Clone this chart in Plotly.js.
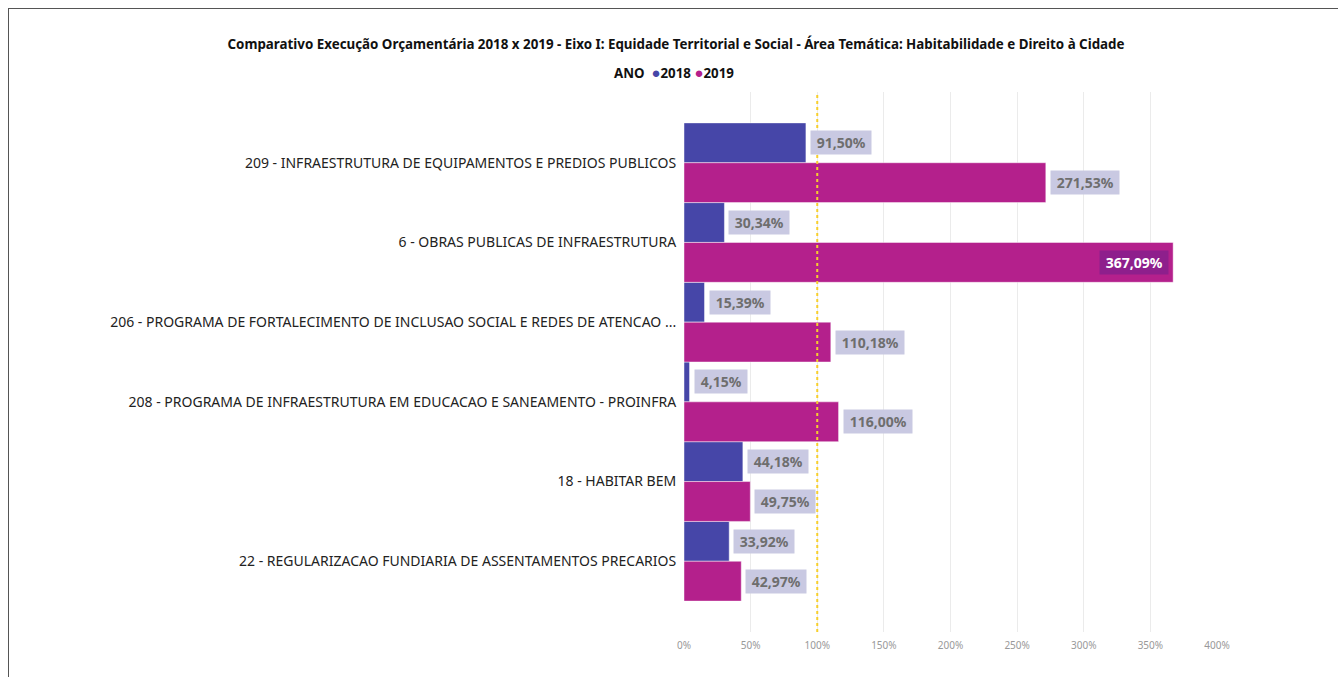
<!DOCTYPE html>
<html>
<head>
<meta charset="utf-8">
<script src="https://cdn.plot.ly/plotly-3.0.1.min.js"></script>
<style>
  html, body { margin: 0; padding: 0; background: #fff; }
  #frame { position: absolute; left: 8px; top: 8px; width: 1340px; height: 680px; border-left: 1px solid #555; border-top: 1px solid #555; }
  #chart { position: absolute; left: 0; top: 0; width: 1338px; height: 677px; }
</style>
</head>
<body>
<div id="frame"></div>
<div id="chart"></div>
<script>
var categories = [
  "209 - INFRAESTRUTURA DE EQUIPAMENTOS E PREDIOS PUBLICOS",
  "6 - OBRAS PUBLICAS DE INFRAESTRUTURA",
  "206 - PROGRAMA DE FORTALECIMENTO DE INCLUSAO SOCIAL E REDES DE ATENCAO ...",
  "208 - PROGRAMA DE INFRAESTRUTURA EM EDUCACAO E SANEAMENTO - PROINFRA",
  "18 - HABITAR BEM",
  "22 - REGULARIZACAO FUNDIARIA DE ASSENTAMENTOS PRECARIOS"
];
var values2018 = [91.50, 30.34, 15.39, 4.15, 44.18, 33.92];
var values2019 = [271.53, 367.09, 110.18, 116.00, 49.75, 42.97];
var seriesNames = ["2018", "2019"];
var seriesColors = ["#4646a8", "#b4208c"];
var tickValues = [0, 50, 100, 150, 200, 250, 300, 350, 400];
var tickLabels = ["0%", "50%", "100%", "150%", "200%", "250%", "300%", "350%", "400%"];
var targetValue = 100;
var titleText = "Comparativo Execução Orçamentária 2018 x 2019 - Eixo I: Equidade Territorial e Social - Área Temática: Habitabilidade e Direito à Cidade";
var legendTitle = "ANO";

var FONT = "'Noto Sans', 'Open Sans', sans-serif";

function fmt(v) { return v.toFixed(2).replace(".", ",") + "%"; }

var series = [values2018, values2019];
var traces = series.map(function (vals, s) {
  return {
    type: "bar",
    orientation: "h",
    name: seriesNames[s],
    x: vals,
    y: categories,
    marker: { color: seriesColors[s], line: { color: "rgba(255,255,255,0.45)", width: 1 } },
    hoverinfo: "x+y+name",
    showlegend: false
  };
});

var maxX = 400;
var plotLeft = 684, plotRight = 1217;
var annotations = [];
series.forEach(function (vals, s) {
  vals.forEach(function (v, i) {
    var inside = v > 340;
    annotations.push({
      x: v,
      y: i + (s === 0 ? -0.25 : 0.25),
      xref: "x", yref: "y",
      text: "&nbsp;<b>" + fmt(v) + "</b>&nbsp;",
      showarrow: false,
      xanchor: inside ? "right" : "left",
      yanchor: "middle",
      xshift: inside ? -4 : 4,
      font: { family: FONT, size: 14, color: inside ? "#ffffff" : "#6e6e6e" },
      bgcolor: inside ? "#8e1f8c" : "#c9c9e2",
      borderpad: 2
    });
  });
});

// Legend drawn as a text line above the plot
annotations.push({
  xref: "paper", yref: "paper",
  x: (674 - plotLeft) / (plotRight - plotLeft), y: 1,
  yshift: 20,
  xanchor: "center", yanchor: "middle",
  showarrow: false,
  text: "<b>" + legendTitle + "</b>  " +
        seriesNames.map(function (n, s) {
          return "<span style='color:" + seriesColors[s] + ";font-size:15px'>●</span><b>" + n + "</b>";
        }).join(" "),
  font: { family: FONT, size: 13.3, color: "#111" }
});

var layout = {
  width: 1338, height: 677,
  paper_bgcolor: "rgba(0,0,0,0)",
  plot_bgcolor: "rgba(0,0,0,0)",
  margin: { l: plotLeft, r: 1338 - plotRight, t: 92, b: 45 },
  title: {
    text: "<b>" + titleText + "</b>",
    font: { family: FONT, size: 13.35, color: "#111" },
    xref: "container", yref: "container",
    x: 676 / 1338, xanchor: "center",
    y: 1 - 44 / 677, yanchor: "middle"
  },
  barmode: "group",
  bargap: 0,
  bargroupgap: 0,
  showlegend: false,
  xaxis: {
    range: [0, maxX],
    tickvals: tickValues,
    ticktext: tickLabels,
    showgrid: true,
    gridcolor: "#ebebeb",
    gridwidth: 1,
    zeroline: false,
    showline: false,
    ticks: "outside",
    ticklen: 4,
    tickcolor: "rgba(0,0,0,0)",
    tickfont: { family: FONT, size: 10, color: "#999" },
    fixedrange: true
  },
  yaxis: {
    type: "category",
    range: [5.8875, -0.8875],
    showgrid: false,
    zeroline: false,
    showline: false,
    ticks: "outside",
    ticklen: 4,
    tickcolor: "rgba(0,0,0,0)",
    tickfont: { family: FONT, size: 14, color: "#222" },
    fixedrange: true
  },
  shapes: [{
    type: "line",
    xref: "x", yref: "paper",
    x0: targetValue, x1: targetValue, y0: 0, y1: 1,
    line: { color: "#f7cf2c", width: 2, dash: "dot" },
    layer: "above"
  }],
  annotations: annotations
};

Plotly.newPlot("chart", traces, layout, { displayModeBar: false, staticPlot: true });
</script>
</body>
</html>
